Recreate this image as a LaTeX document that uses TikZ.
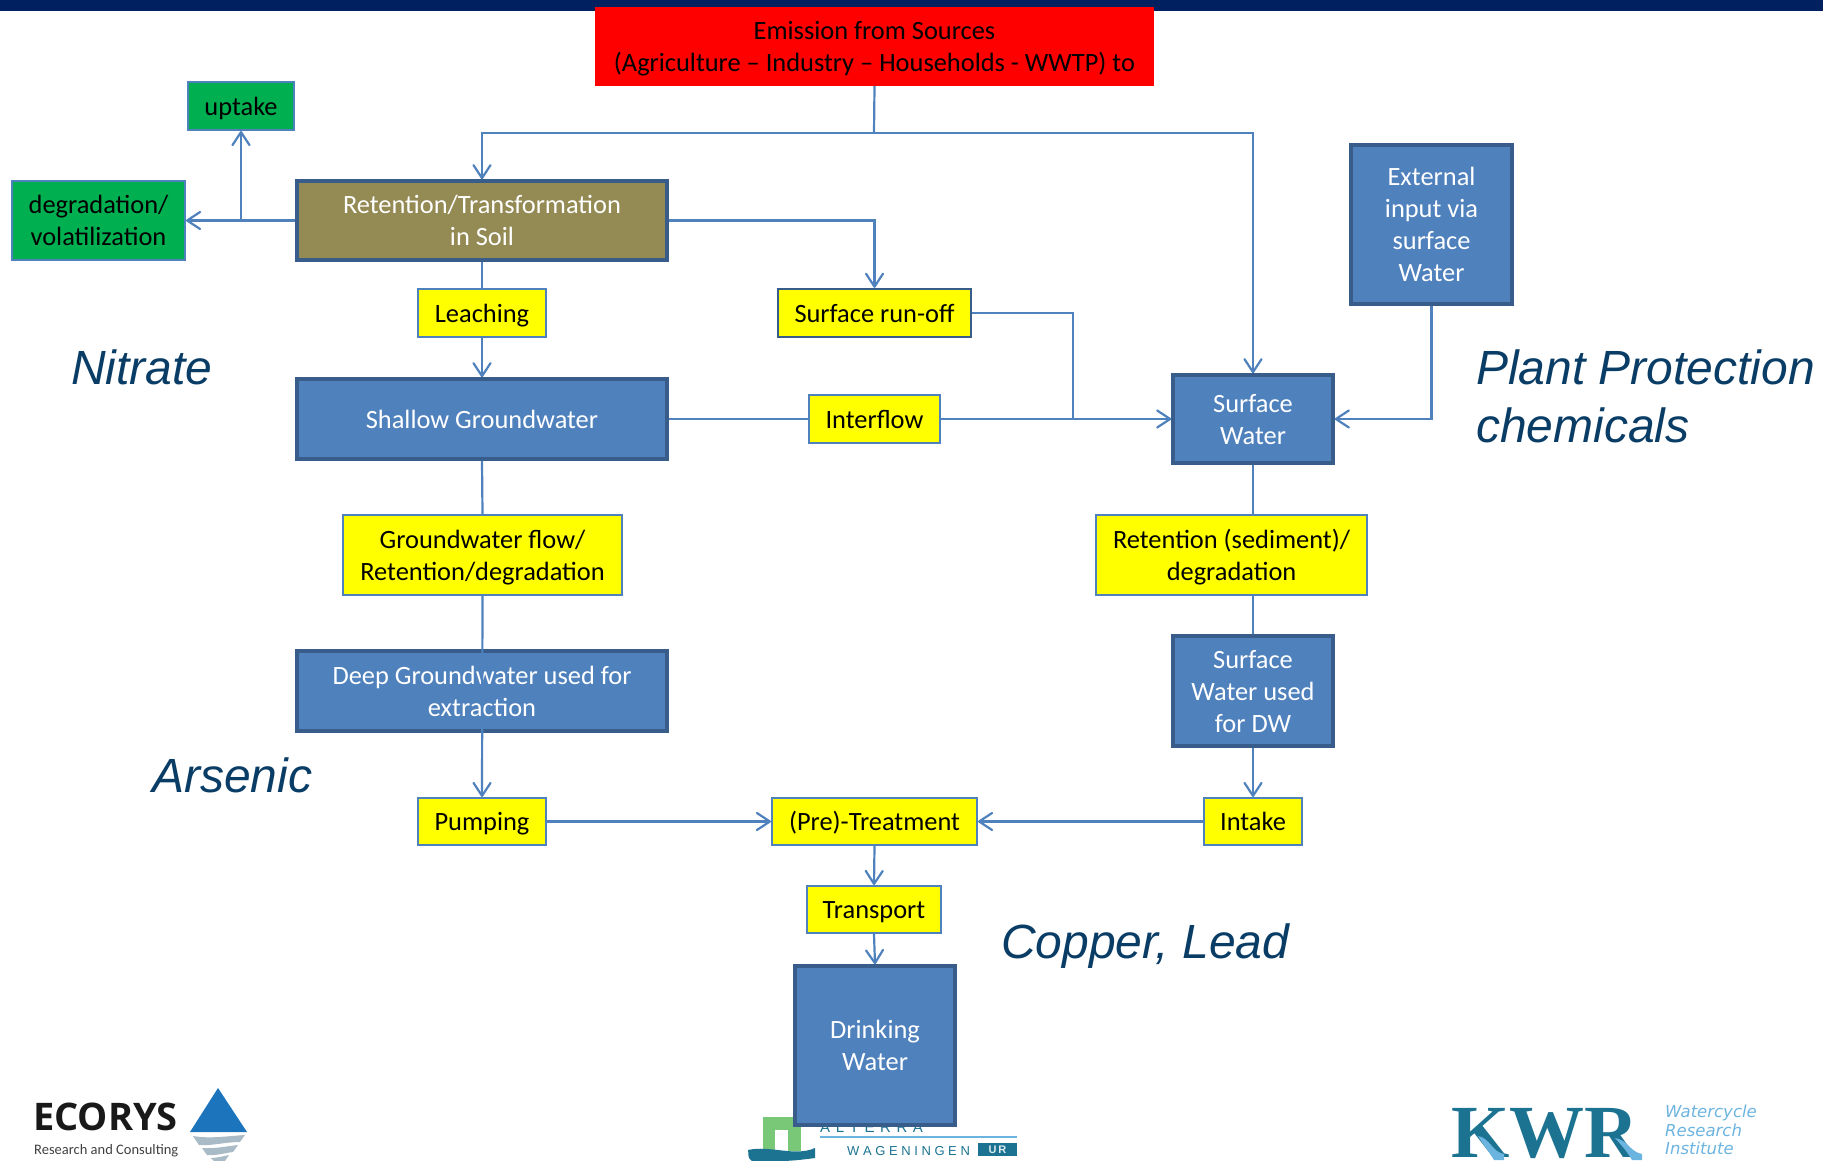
\documentclass[tikz,border=0pt]{standalone}
\usepackage{fontspec}
\setmainfont{Carlito}
\newfontfamily\arialfont{Liberation Sans}
\newfontfamily\logofont{Open Sans}
\usetikzlibrary{arrows.meta}
\definecolor{linkblue}{HTML}{4F81BD}
\definecolor{darkedge}{HTML}{385D8A}
\definecolor{olivebox}{HTML}{948A54}
\definecolor{greenbox}{HTML}{00B050}
\definecolor{headtxt}{HTML}{0A3D66}
\definecolor{topbar}{HTML}{002060}
\definecolor{logoteal}{HTML}{1B7391}
\definecolor{logolight}{HTML}{6CB4E0}
\definecolor{logogreen}{HTML}{78C878}
\definecolor{logoblue}{HTML}{1C75BC}
\definecolor{logogrey}{HTML}{A9BBC6}
\definecolor{pureyellow}{HTML}{FFFF00}
\definecolor{purered}{HTML}{FF0000}
\tikzset{
  x=1pt,y=-1pt,
  anybox/.style={inner sep=0pt,align=center,font=\fontsize{26.4}{32}\selectfont},
  bluebox/.style={anybox,fill=linkblue,draw=darkedge,line width=3.5pt,text=white},
  soilbox/.style={bluebox,fill=olivebox},
  yellowbox/.style={anybox,fill=pureyellow,draw=linkblue,line width=2pt,text=black},
  darkyellow/.style={yellowbox,draw=darkedge,line width=2.4pt},
  greenie/.style={anybox,fill=greenbox,draw=linkblue,line width=2pt,text=black},
  redbox/.style={anybox,fill=purered,text=black},
  link/.style={draw=linkblue,line width=2.2pt},
  arrow/.style={link,-{Straight Barb[length=13pt,width=17pt,line width=2.2pt,round]}},
  heading/.style={inner sep=0pt,anchor=west,align=left,text=headtxt,font=\arialfont\fontsize{48}{58}\selectfont\itshape},
}
\newcommand{\tstr}{\rule[-0.24em]{0pt}{1.17em}}
\newcommand{\bx}[7]{\node[#1,minimum width=#4pt-#2pt,minimum height=#5pt-#3pt] (#6) at ({(#2+#4)/2},{(#3+#5)/2}) {\tstr #7\tstr};}
\newcommand{\lsp}{\hspace{5.6pt}}
\newcommand{\wsp}{\hspace{3.6pt}}
\begin{document}
\begin{tikzpicture}
\useasboundingbox (0,0) rectangle (1823,1161);
\fill[topbar] (0,0) rectangle (1823,11);
% Alterra logo (the Drinking Water box overlaps it)
\fill[logogreen] (763,1117) rectangle (801,1151);
\fill[white] (775,1130) rectangle (788,1151);
\fill[logoteal] (748,1150) .. controls (770,1145) and (795,1157) .. (815,1148) -- (815,1158) .. controls (800,1160) and (790,1161) .. (780,1161) -- (752,1161) .. controls (747,1158) and (749,1154) .. (748,1150) -- cycle;
\node[inner sep=0pt,anchor=base west,font=\arialfont\fontsize{15}{15}\selectfont,text=logoteal] (alterra) at (820,1132) {A\lsp L\lsp T\lsp E\lsp R\lsp R\lsp A};
\draw[logolight,line width=1.6pt] (820,1137) -- (1017,1137);
\node[inner sep=0pt,anchor=base west,font=\arialfont\fontsize{13}{13}\selectfont,text=logoteal] (wag) at (847,1155) {W\wsp A\wsp G\wsp E\wsp N\wsp I\wsp N\wsp G\wsp E\wsp N};
\node[fill=logoteal,inner sep=0pt,minimum width=39pt,minimum height=13pt,font=\arialfont\bfseries\fontsize{11}{11}\selectfont,text=white!85!logoteal] (ur) at (997.5,1149.5) {U\,R};
% nodes
\coordinate (branch) at (874,133);
\coordinate (split) at (241,221);
\coordinate (join) at (1073,418);
\bx{redbox}{595}{7}{1154}{86}{emis}{Emission from Sources\\(Agriculture -- Industry -- Households - WWTP) to}
\bx{greenie}{188}{82}{294}{130}{uptake}{uptake}
\bx{greenie}{12}{181}{185}{260}{degr}{degradation/\\volatilization}
\bx{soilbox}{297}{181}{667}{260}{soil}{Retention/Transformation\\in Soil}
\bx{yellowbox}{418}{289}{546}{337}{leach}{Leaching}
\bx{darkyellow}{778}{289}{971}{337}{runoff}{Surface run-off}
\bx{bluebox}{1351}{145}{1512}{304}{ext}{External\\input via\\surface\\Water}
\bx{bluebox}{297}{379}{667}{459}{shallow}{Shallow Groundwater}
\bx{yellowbox}{809}{395}{940}{443}{inter}{Interflow}
\bx{bluebox}{1173}{375}{1333}{463}{sw}{Surface\\Water}
\bx{yellowbox}{343}{515}{622}{595}{gwflow}{Groundwater flow/\\Retention/degradation}
\bx{yellowbox}{1096}{515}{1367}{595}{sed}{Retention (sediment)/\\degradation}
\bx{bluebox}{297}{651}{667}{731}{deep}{Deep Groundwater used for\\extraction}
\bx{bluebox}{1173}{636}{1333}{746}{swdw}{Surface\\Water used\\for DW}
\bx{yellowbox}{418}{798}{546}{845}{pump}{Pumping}
\bx{yellowbox}{772}{798}{977}{845}{pre}{(Pre)-Treatment}
\bx{yellowbox}{1204}{798}{1302}{845}{intake}{Intake}
\bx{yellowbox}{807}{886}{941}{933}{trans}{Transport}
\bx{bluebox}{795}{966}{955}{1125}{dw}{Drinking\\Water}
% connectors
\draw[link] (emis.south) -- (branch);
\draw[arrow] (branch) -| (soil.north);
\draw[arrow] (branch) -| (sw.north);
\draw[arrow] (soil.west) -- (degr.east);
\draw[arrow] (split) -- (split |- uptake.south);
\draw[arrow] (soil.east) -| (runoff.north);
\draw[link] (soil.south) -- (leach.north);
\draw[arrow] (leach.south) -- (shallow.north);
\draw[link] (shallow.east) -- (inter.west);
\draw[arrow] (inter.east) -- (sw.west);
\draw[link] (runoff.east) -| (join);
\draw[arrow] (ext.south) |- (sw.east);
\draw[link] (shallow.south) -- (gwflow.north);
\draw[arrow] (gwflow.south) -- (pump.north);
\draw[link] (sw.south) -- (sw.south |- sed.north);
\draw[link] (sw.south |- sed.south) -- (swdw.north);
\draw[arrow] (swdw.south) -- (intake.north);
\draw[arrow] (pump.east) -- (pre.west);
\draw[arrow] (intake.west) -- (pre.east);
\draw[arrow] (pre.south) -- (trans.north);
\draw[arrow] (trans.south) -- (dw.north);
% free labels
\node[heading] (nitrate) at (71,367) {Nitrate};
\node[heading] (ppc) at (1476,396) {Plant Protection\\chemicals};
\node[heading] (arsenic) at (152,775) {Arsenic};
\node[heading] (copper) at (1001,946) {Copper, Lead};
% ECORYS logo
\node[inner sep=0pt,anchor=base west,font=\logofont\bfseries\fontsize{38}{38}\selectfont,text=black!90] (ecorys) at (33,1130) {ECORYS};
\node[inner sep=0pt,anchor=base west,font=\fontsize{14.5}{16}\selectfont,text=black!75] (ecorys2) at (34,1154) {Research and Consulting};
\fill[logoblue] (218,1088) -- (247,1132) -- (190,1132) -- cycle;
\fill[logogrey] (193,1136) .. controls (210,1139) and (228,1136) .. (245,1135) -- (240,1142) .. controls (225,1142) and (212,1146) .. (199,1145) -- cycle;
\fill[logogrey] (202,1148) .. controls (215,1149) and (228,1146) .. (238,1145) -- (233,1152) .. controls (225,1153) and (215,1156) .. (207,1155) -- cycle;
\fill[logogrey] (211,1158) .. controls (217,1158) and (224,1156) .. (229,1155) -- (225,1161) -- (214,1161) -- cycle;
% KWR logo
\node[inner sep=0pt,anchor=base west,text=logoteal,font=\fontspec{Liberation Serif}\bfseries\fontsize{75}{75}\selectfont] (kwr) at (1451,1157) {KWR};
\fill[logolight] (1478,1136) .. controls (1490,1138) and (1492,1152) .. (1504,1154) -- (1504,1160) -- (1494,1160) .. controls (1488,1150) and (1484,1146) .. (1478,1136) -- cycle;
\fill[logolight] (1615,1138) .. controls (1628,1140) and (1630,1152) .. (1642,1154) -- (1642,1160) -- (1632,1160) .. controls (1626,1150) and (1622,1146) .. (1615,1138) -- cycle;
\node[inner sep=0pt,anchor=north west,align=left,text=logolight,font=\fontspec{DejaVu Sans}\itshape\fontsize{16.5}{18.5}\selectfont] (wri) at (1665,1105) {Watercycle\\Research\\Institute};
\end{tikzpicture}
\end{document}
